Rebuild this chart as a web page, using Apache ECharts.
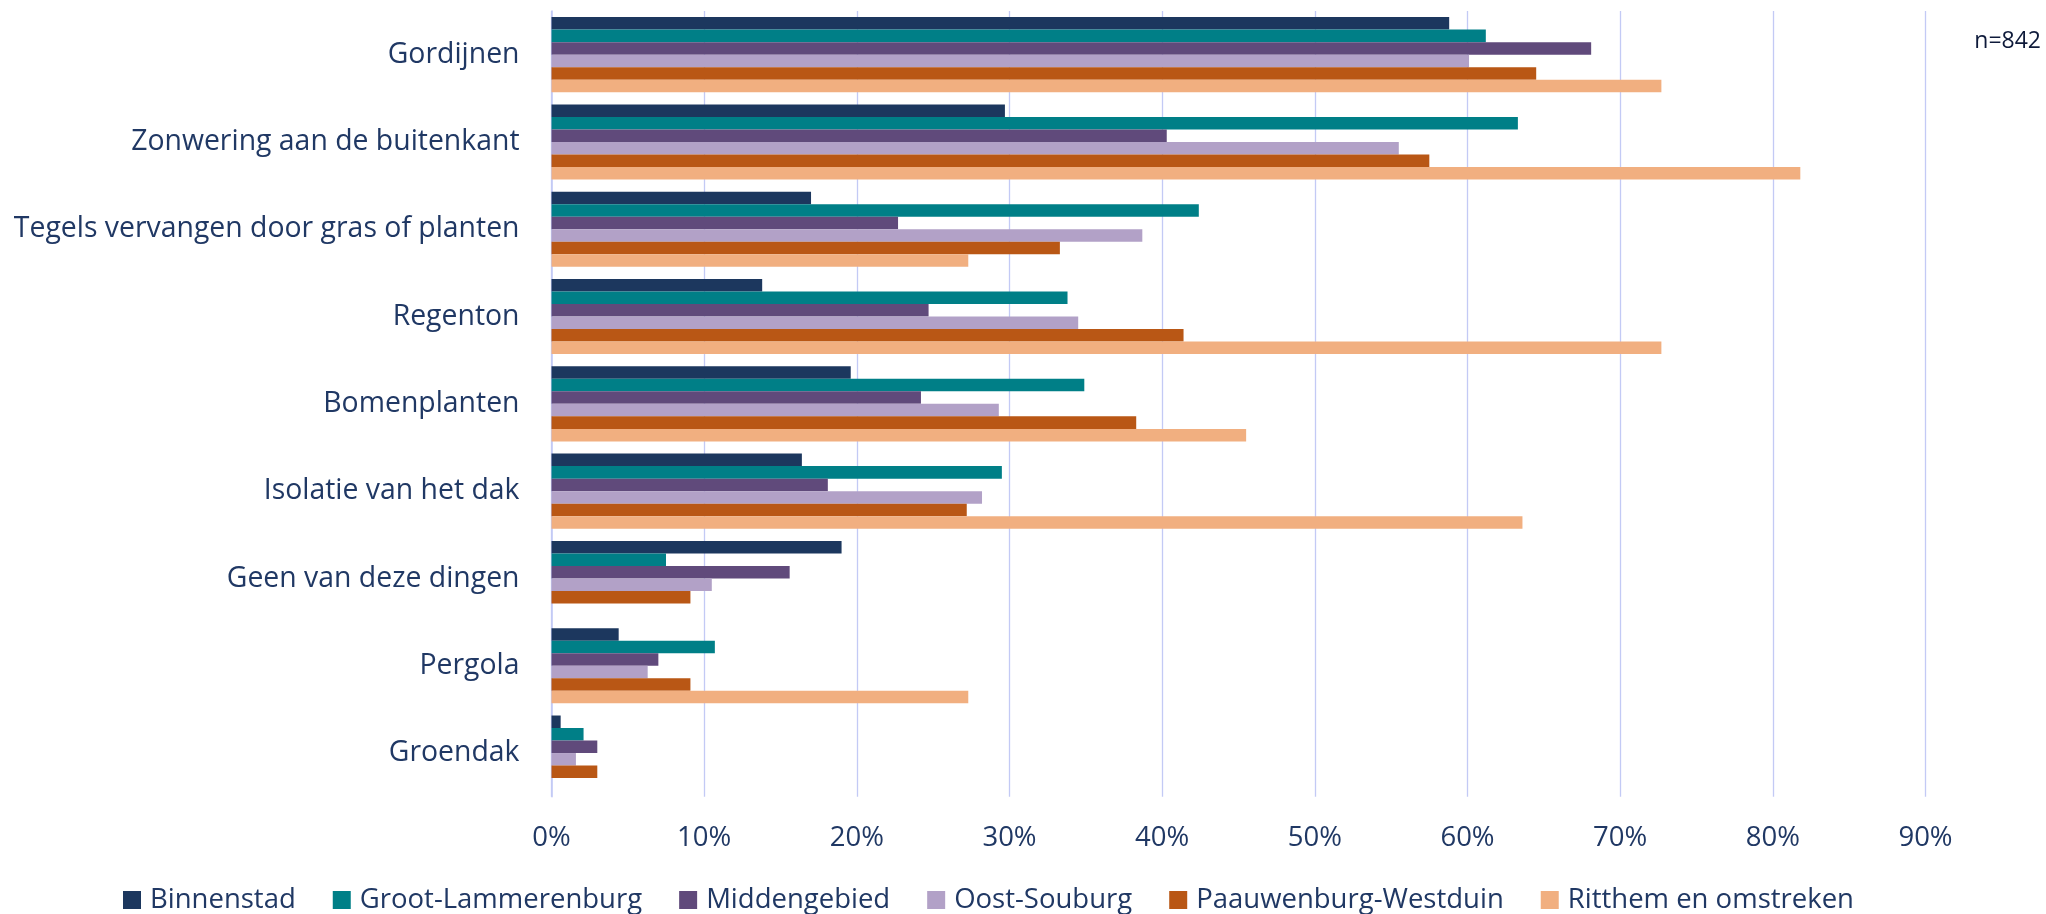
<!DOCTYPE html>
<html>
<head>
<meta charset="utf-8">
<script src="https://cdn.jsdelivr.net/npm/echarts@6/dist/echarts.min.js"></script>
<style>
  html, body { margin: 0; padding: 0; background: #ffffff; }
  #chart { width: 2046px; height: 914px; }
</style>
</head>
<body>
<div id="chart"></div>
<script>
// Maatregelen tegen hitte, per wijk (percentage van respondenten)
const categories = [
  'Gordijnen',
  'Zonwering aan de buitenkant',
  'Tegels vervangen door gras of planten',
  'Regenton',
  'Bomenplanten',
  'Isolatie van het dak',
  'Geen van deze dingen',
  'Pergola',
  'Groendak'
];

const seriesNames = [
  'Binnenstad',
  'Groot-Lammerenburg',
  'Middengebied',
  'Oost-Souburg',
  'Paauwenburg-Westduin',
  'Ritthem en omstreken'
];

const binnenstad        = [58.8, 29.7, 17.0, 13.8, 19.6, 16.4, 19.0, 4.4, 0.6];
const grootLammerenburg = [61.2, 63.3, 42.4, 33.8, 34.9, 29.5, 7.5, 10.7, 2.1];
const middengebied      = [68.1, 40.3, 22.7, 24.7, 24.2, 18.1, 15.6, 7.0, 3.0];
const oostSouburg       = [60.1, 55.5, 38.7, 34.5, 29.3, 28.2, 10.5, 6.3, 1.6];
const paauwenburg       = [64.5, 57.5, 33.3, 41.4, 38.3, 27.2, 9.1, 9.1, 3.0];
const ritthem           = [72.7, 81.8, 27.3, 72.7, 45.5, 63.6, 0, 27.3, 0];

const xTicks = { min: 0, max: 90, interval: 10 };
const sampleNote = 'n=842';

const colors = ['#1C375E', '#007F87', '#604A7B', '#B2A1C7', '#B95715', '#F1AF80'];
const seriesValues = [binnenstad, grootLammerenburg, middengebied, oostSouburg, paauwenburg, ritthem];

const textColor = '#203864';
const fontFamily = '"Open Sans", "Noto Sans", sans-serif';
const gridColor = '#C3CAF5';

const chart = echarts.init(document.getElementById('chart'), null, { renderer: 'canvas' });

chart.setOption({
  animation: false,
  backgroundColor: '#ffffff',
  color: colors,
  grid: { left: 551.5, right: 120.5, top: 11, bottom: 117.3 },
  legend: {
    data: seriesNames,
    left: 118,
    top: 881,
    icon: 'rect',
    itemWidth: 18,
    itemHeight: 18,
    itemGap: 37,
    textStyle: {
      color: textColor,
      fontFamily: fontFamily,
      fontSize: 27.5,
      padding: [0, 0, 0, 4]
    }
  },
  xAxis: {
    type: 'value',
    min: xTicks.min,
    max: xTicks.max,
    interval: xTicks.interval,
    axisLine: { show: false },
    axisTick: { show: false },
    splitLine: { lineStyle: { color: gridColor, width: 1.3 } },
    axisLabel: {
      formatter: '{value}%',
      color: textColor,
      fontFamily: fontFamily,
      fontSize: 27.5,
      lineHeight: 28,
      margin: 27
    }
  },
  yAxis: {
    type: 'category',
    data: categories,
    inverse: true,
    axisLine: { lineStyle: { color: gridColor, width: 1.6 } },
    axisTick: { show: false },
    splitLine: { show: false },
    axisLabel: {
      color: textColor,
      fontFamily: fontFamily,
      fontSize: 28.4,
      margin: 32
    }
  },
  graphic: [{
    type: 'text',
    right: 5,
    top: 30,
    style: {
      text: sampleNote,
      fill: '#0E1A3A',
      font: '23px "Open Sans", sans-serif'
    }
  }],
  series: seriesNames.map((name, i) => ({
    name: name,
    type: 'bar',
    data: seriesValues[i],
    barGap: '0%',
    barCategoryGap: '14%',
    itemStyle: { color: colors[i] }
  }))
});
</script>
</body>
</html>
